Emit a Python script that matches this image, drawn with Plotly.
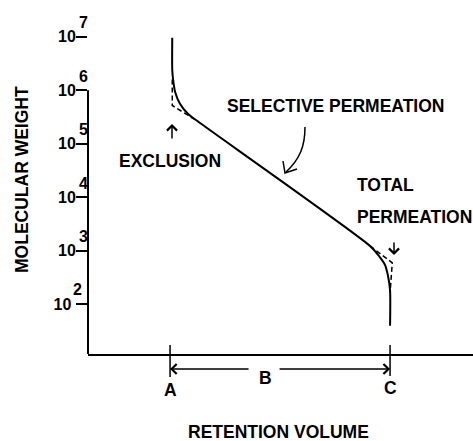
import plotly.graph_objects as go

# retention volume (A = 0, C = 1) and molecular weight along the calibration curve
ret_vol = [0.01, 0.01, 0.014, 0.023, 0.045, 0.082, 0.127, 0.909, 0.95, 0.977, 0.991, 1.0, 1.0]
mol_wt = [9.6e6, 2.4e6, 1.57e6, 9.3e5, 5.6e5, 3.6e5, 2.6e5, 1.22e3, 7.9e2, 5.4e2, 3.3e2, 1.8e2, 39]

# idealised corners (dashed)
excl_vol = [0.01, 0.01, 0.127]
excl_wt = [1.6e6, 5.2e5, 2.6e5]
perm_vol = [0.909, 1.01, 1.0]
perm_wt = [1.22e3, 5.9e2, 1.6e2]

exponents = [2, 3, 4, 5, 6, 7]
tick_vals = [10 ** e for e in exponents]
tick_text = ["10\u00a0", "10", "10", "10", "10", "10"]

point_a = 0.0
point_c = 1.0

x_range = [-0.373, 1.377]
y_range = [1.064, 7.69]

W, H = 473, 441
ML, MB = 88, 87
FONT = "Liberation Sans, Arial, sans-serif"


def px(x):
    return (x - ML) / (W - ML)


def py(y):
    return (H - MB - y) / (H - MB)


fig = go.Figure()
fig.add_trace(go.Scatter(x=ret_vol, y=mol_wt, mode="lines",
                         line=dict(color="black", width=2, shape="spline", smoothing=0.7)))
fig.add_trace(go.Scatter(x=excl_vol, y=excl_wt, mode="lines",
                         line=dict(color="black", width=1.5, dash="5px,3px")))
fig.add_trace(go.Scatter(x=perm_vol, y=perm_wt, mode="lines",
                         line=dict(color="black", width=1.5, dash="5px,3px")))

bold = dict(family=FONT, size=17.5, color="black", weight="bold")

ann = []
# exponents of the tick labels
for e in exponents:
    ann.append(dict(x=0, xref="paper", y=e, yref="y", text=str(e), showarrow=False,
                    xanchor="center", yanchor="middle",
                    xshift=-5 if e != 2 else -11, yshift=14,
                    font=dict(family=FONT, size=16, color="black", weight="bold")))


def label(text, x, y, xanchor="center"):
    ann.append(dict(x=px(x), y=py(y), xref="paper", yref="paper", text=text,
                    showarrow=False, xanchor=xanchor, yanchor="middle", font=bold))


label("SELECTIVE PERMEATION", 335, 106)
label("EXCLUSION", 170, 161)
label("TOTAL", 355, 185, "left")
label("PERMEATION", 355, 217, "left")
label("A", 170, 390)
label("B", 265, 378)
label("C", 390, 388)
label("RETENTION VOLUME", 278, 432)
ann.append(dict(x=px(10), y=py(180), xref="paper", yref="paper", text="MOLECULAR WEIGHT",
                textangle=-90, showarrow=False, font=bold))

arrow = dict(showarrow=True, arrowhead=4, arrowsize=1.3, arrowwidth=1.5,
             arrowcolor="black", text="", axref="pixel", ayref="pixel")
# exclusion arrow (up) and total permeation arrow (down)
ann.append(dict(arrow, x=px(172), y=py(124), xref="paper", yref="paper", ax=0, ay=16))
ann.append(dict(arrow, x=px(394), y=py(255), xref="paper", yref="paper", ax=0, ay=-14))
# A <- B -> C
ann.append(dict(arrow, x=point_a, y=py(369), xref="x", yref="paper", ax=80, ay=0))
ann.append(dict(arrow, x=point_c, y=py(369), xref="x", yref="paper", ax=-112, ay=0))

shapes = [
    # y axis line from 10^6 down
    dict(type="line", xref="paper", yref="paper", x0=0, x1=0, y0=0,
         y1=(6 - y_range[0]) / (y_range[1] - y_range[0]), line=dict(color="black", width=2)),
    # ticks at A and C
    dict(type="line", xref="x", yref="paper", x0=point_a, x1=point_a, y0=py(345), y1=py(377),
         line=dict(color="black", width=1.5)),
    dict(type="line", xref="x", yref="paper", x0=point_c, x1=point_c, y0=py(345), y1=py(376),
         line=dict(color="black", width=1.5)),
    # curved arrow to the selective permeation line
    dict(type="path", xref="paper", yref="paper",
         path=f"M {px(305)},{py(127)} C {px(305)},{py(146)} {px(300)},{py(159)} {px(286)},{py(172)}",
         line=dict(color="black", width=1.5)),
    dict(type="path", xref="paper", yref="paper",
         path=f"M {px(283)},{py(161)} L {px(285)},{py(173)} L {px(297)},{py(169)}",
         line=dict(color="black", width=1.5)),
]

fig.update_layout(
    width=W, height=H,
    margin=dict(l=ML, r=0, t=0, b=MB),
    paper_bgcolor="white", plot_bgcolor="white",
    showlegend=False,
    annotations=ann, shapes=shapes,
    xaxis=dict(range=x_range, showline=True, linecolor="black", linewidth=2,
               showgrid=False, zeroline=False, showticklabels=False, ticks=""),
    yaxis=dict(type="log", range=y_range, showline=False, showgrid=False, zeroline=False,
               tickvals=tick_vals, ticktext=tick_text, ticks="outside", ticklen=11,
               tickwidth=2, tickcolor="black", ticklabelstandoff=-3,
               tickfont=dict(family=FONT, size=16, color="black", weight="bold")),
)

fig.write_html("out.html", config={"displayModeBar": False},
               post_script="document.body.style.margin='0';")
